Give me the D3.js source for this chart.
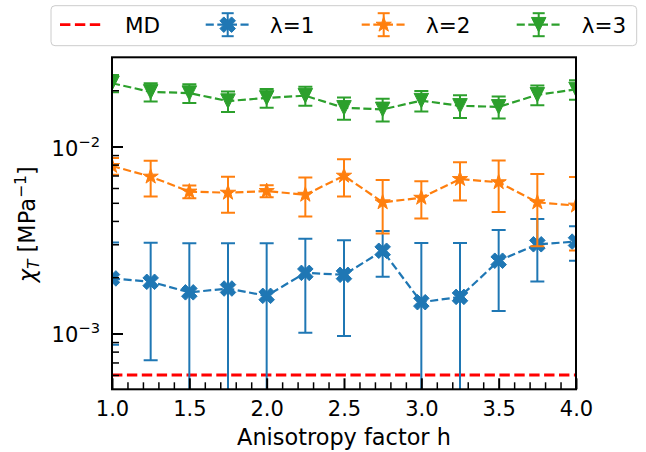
<!DOCTYPE html>
<html><head><meta charset="utf-8">
<script src="https://cdn.jsdelivr.net/npm/d3@7"></script>
<style>
body{margin:0;background:#fff}
svg{display:block}
text{font-family:"DejaVu Sans",sans-serif;fill:#000}
</style>
</head><body>
<svg id="chart" width="646" height="452"></svg>
<script>
// ---- data ----
const hValues = [1.0, 1.25, 1.5, 1.75, 2.0, 2.25, 2.5, 2.75, 3.0, 3.25, 3.5, 3.75, 4.0];
const mdValue = 6.0e-4;
const lambda1 = [0.00197, 0.00189, 0.00166, 0.00174, 0.00159, 0.00211, 0.00206, 0.00277, 0.00147, 0.00157, 0.00245, 0.00300, 0.00310];
const lambda1Err = [0.00110, 0.00117, 0.00138, 0.00130, 0.00145, 0.00110, 0.00109, 0.00076, 0.00158, 0.00148, 0.00113, 0.00110, 0.00065];
const lambda2 = [0.00787, 0.00690, 0.00574, 0.00566, 0.00578, 0.00552, 0.00698, 0.00503, 0.00532, 0.00670, 0.00644, 0.00503, 0.00483];
const lambda2Err = [0.00080, 0.00150, 0.00045, 0.00124, 0.00043, 0.00130, 0.00157, 0.00160, 0.00120, 0.00155, 0.00197, 0.00210, 0.00205];
const lambda3 = [0.0218, 0.0196, 0.0193, 0.0175, 0.0182, 0.0187, 0.0161, 0.0158, 0.0176, 0.0165, 0.0163, 0.0189, 0.0202];
const lambda3Err = [0.0023, 0.0022, 0.0022, 0.0022, 0.0021, 0.0022, 0.0022, 0.0022, 0.0022, 0.0023, 0.0022, 0.0023, 0.0024];
const seriesNames = ["λ=1", "λ=2", "λ=3"];
const mdName = "MD";
const xMajorTicks = [1.0, 1.5, 2.0, 2.5, 3.0, 3.5, 4.0];
const yMajorTicks = [1e-3, 1e-2];
const xLabel = "Anisotropy factor h";

// ---- layout ----
const L = 112, R = 576, T = 57.3, B = 389.3;
const svg = d3.select("#chart");
const x = d3.scaleLinear().domain([1, 4]).range([L, R]);
const y = d3.scaleLog().domain([5.03e-4, 3.0e-2]).range([B, T]);
const FS = 21, LFS = 22.4, GFS = 21.5;

svg.append("rect").attr("width", 646).attr("height", 452).attr("fill", "#fff");
svg.append("defs").append("clipPath").attr("id", "plotclip")
  .append("rect").attr("x", L).attr("y", T).attr("width", R - L).attr("height", B - T);

// marker shapes
function xMarker(s) {
  const pts = [[-1,-3],[1,-3],[1,-1],[3,-1],[3,1],[1,1],[1,3],[-1,3],[-1,1],[-3,1],[-3,-1],[-1,-1]];
  const c = Math.SQRT1_2, k = s / 6;
  return "M" + pts.map(([a, b]) => [(a - b) * c * k, (a + b) * c * k].map(v => v.toFixed(2)).join(",")).join("L") + "Z";
}
function starMarker(r) {
  const pts = [];
  for (let i = 0; i < 10; i++) {
    const rr = i % 2 === 0 ? r : r * 0.381966;
    const a = -Math.PI / 2 + i * Math.PI / 5;
    pts.push([rr * Math.cos(a), rr * Math.sin(a)]);
  }
  return "M" + pts.map(p => p.map(v => v.toFixed(2)).join(",")).join("L") + "Z";
}
function triDown(s) {
  const h = s / 2;
  return `M${-h},${-h}L${h},${-h}L0,${h}Z`;
}

const series = [
  {name: seriesNames[0], vals: lambda1, errs: lambda1Err, color: "#1f77b4", marker: xMarker(16.5)},
  {name: seriesNames[1], vals: lambda2, errs: lambda2Err, color: "#ff7f0e", marker: starMarker(8)},
  {name: seriesNames[2], vals: lambda3, errs: lambda3Err, color: "#2ca02c", marker: triDown(14.5)}
];

const plot = svg.append("g").attr("clip-path", "url(#plotclip)");

// MD reference line
plot.append("line")
  .attr("x1", x(1)).attr("x2", x(4))
  .attr("y1", y(mdValue)).attr("y2", y(mdValue))
  .attr("stroke", "#ff0000").attr("stroke-width", 2.8)
  .attr("stroke-dasharray", "10.4,4.5");

const cap = 7;
series.forEach(s => {
  const g = plot.append("g");
  const data = hValues.map((h, i) => ({h, v: s.vals[i], e: s.errs[i]}));
  const lo = d => Math.max(d.v - d.e, 1e-6);
  const hi = d => d.v + d.e;
  g.selectAll("line.bar").data(data).join("line").attr("class", "bar")
    .attr("x1", d => x(d.h)).attr("x2", d => x(d.h))
    .attr("y1", d => y(lo(d))).attr("y2", d => y(hi(d)))
    .attr("stroke", s.color).attr("stroke-width", 2);
  g.selectAll("line.capt").data(data).join("line").attr("class", "capt")
    .attr("x1", d => x(d.h) - cap).attr("x2", d => x(d.h) + cap)
    .attr("y1", d => y(hi(d))).attr("y2", d => y(hi(d)))
    .attr("stroke", s.color).attr("stroke-width", 2);
  g.selectAll("line.capb").data(data.filter(d => d.v - d.e > 0)).join("line").attr("class", "capb")
    .attr("x1", d => x(d.h) - cap).attr("x2", d => x(d.h) + cap)
    .attr("y1", d => y(lo(d))).attr("y2", d => y(lo(d)))
    .attr("stroke", s.color).attr("stroke-width", 2);
  g.append("path").datum(data)
    .attr("d", d3.line().x(d => x(d.h)).y(d => y(d.v)))
    .attr("fill", "none").attr("stroke", s.color).attr("stroke-width", 2.2)
    .attr("stroke-dasharray", "8.1,3.5");
  g.selectAll("path.mk").data(data).join("path").attr("class", "mk")
    .attr("d", s.marker)
    .attr("transform", d => `translate(${x(d.h)},${y(d.v)})`)
    .attr("fill", s.color).attr("stroke", s.color).attr("stroke-width", 1);
});

// ---- axes ----
const xMinor = d3.range(11, 40).map(v => v / 10).filter(v => Math.abs(v * 2 - Math.round(v * 2)) > 1e-6);
svg.append("g").attr("transform", `translate(0,${B})`)
  .call(d3.axisBottom(x).tickValues(xMinor).tickSize(-7).tickFormat(""))
  .call(g => g.select(".domain").remove())
  .call(g => g.selectAll(".tick line").attr("stroke", "#000").attr("stroke-width", 1.5));
svg.append("g").attr("transform", `translate(0,${B})`)
  .call(d3.axisBottom(x).tickValues(xMajorTicks).tickSize(-11).tickPadding(12).tickFormat(d3.format(".1f")))
  .call(g => g.select(".domain").remove())
  .call(g => g.selectAll(".tick line").attr("stroke", "#000").attr("stroke-width", 2))
  .call(g => g.selectAll(".tick text").attr("font-size", FS).attr("font-family", "DejaVu Sans").attr("fill", "#000"));

const yMinor = [];
[1e-4, 1e-3, 1e-2].forEach(dec => { for (let k = 2; k <= 9; k++) { const v = k * dec; if (v > 5.04e-4 && v < 2.99e-2) yMinor.push(v); } });
svg.append("g").attr("transform", `translate(${L},0)`)
  .call(d3.axisLeft(y).tickValues(yMinor).tickSize(-7).tickFormat(""))
  .call(g => g.select(".domain").remove())
  .call(g => g.selectAll(".tick line").attr("stroke", "#000").attr("stroke-width", 1.5));
svg.append("g").attr("transform", `translate(${L},0)`)
  .call(d3.axisLeft(y).tickValues(yMajorTicks).tickSize(-11).tickPadding(12).tickFormat(""))
  .call(g => g.select(".domain").remove())
  .call(g => g.selectAll(".tick line").attr("stroke", "#000").attr("stroke-width", 2))
  .call(g => g.selectAll(".tick text")
    .attr("dy", 8.5).attr("font-family", "DejaVu Sans").attr("fill", "#000")
    .each(function(d) {
      const t = d3.select(this);
      t.append("tspan").attr("font-size", FS).text("10");
      t.append("tspan").attr("font-size", FS * 0.7).attr("dy", -9).text("\u2212" + Math.round(-Math.log10(d)));
    }));

// frame
svg.append("rect").attr("x", L).attr("y", T).attr("width", R - L).attr("height", B - T)
  .attr("fill", "none").attr("stroke", "#000").attr("stroke-width", 2);

// axis labels
svg.append("text").attr("x", (L + R) / 2).attr("y", 445).attr("text-anchor", "middle")
  .attr("font-size", LFS).text(xLabel);
const yl = svg.append("text").attr("transform", `translate(35,${(T + B) / 2 + 1}) rotate(-90)`)
  .attr("text-anchor", "middle").attr("font-size", LFS);
yl.append("tspan").attr("font-style", "italic").text("χ");
yl.append("tspan").attr("font-style", "italic").attr("font-size", LFS * 0.7).attr("dy", 4).text("T");
yl.append("tspan").attr("dy", -4).text(" [MPa");
yl.append("tspan").attr("font-size", LFS * 0.7).attr("dy", -9).text("\u22121");
yl.append("tspan").attr("dy", 9).text("]");

// ---- legend ----
const lg = svg.append("g");
lg.append("rect").attr("x", 51).attr("y", 5.7).attr("width", 585.7).attr("height", 40).attr("rx", 4)
  .attr("fill", "#fff").attr("fill-opacity", 0.8).attr("stroke", "#cccccc").attr("stroke-width", 1);
const ly = 24.7, lty = 32.6;
lg.append("line").attr("x1", 60).attr("x2", 102).attr("y1", ly).attr("y2", ly)
  .attr("stroke", "#ff0000").attr("stroke-width", 2.8).attr("stroke-dasharray", "10.4,4.5");
lg.append("text").attr("x", 125).attr("y", lty).attr("font-size", GFS).text(mdName);
const legX = [205.7, 361.7, 516.7];
const legT = [270, 426, 581.7];
series.forEach((s, i) => {
  const x0 = legX[i], x1 = x0 + 44, xc = (x0 + x1) / 2;
  lg.append("line").attr("x1", x0).attr("x2", x1).attr("y1", ly).attr("y2", ly)
    .attr("stroke", s.color).attr("stroke-width", 2.2).attr("stroke-dasharray", "8.1,3.5");
  lg.append("line").attr("x1", xc).attr("x2", xc).attr("y1", ly - 11.5).attr("y2", ly + 11.5)
    .attr("stroke", s.color).attr("stroke-width", 2);
  [ly - 11.5, ly + 11.5].forEach(yy => lg.append("line").attr("x1", xc - 6).attr("x2", xc + 6)
    .attr("y1", yy).attr("y2", yy).attr("stroke", s.color).attr("stroke-width", 2));
  lg.append("path").attr("d", s.marker).attr("transform", `translate(${xc},${ly})`)
    .attr("fill", s.color).attr("stroke", s.color).attr("stroke-width", 1);
  lg.append("text").attr("x", legT[i]).attr("y", lty).attr("font-size", GFS).text(s.name);
});
</script>
</body></html>
